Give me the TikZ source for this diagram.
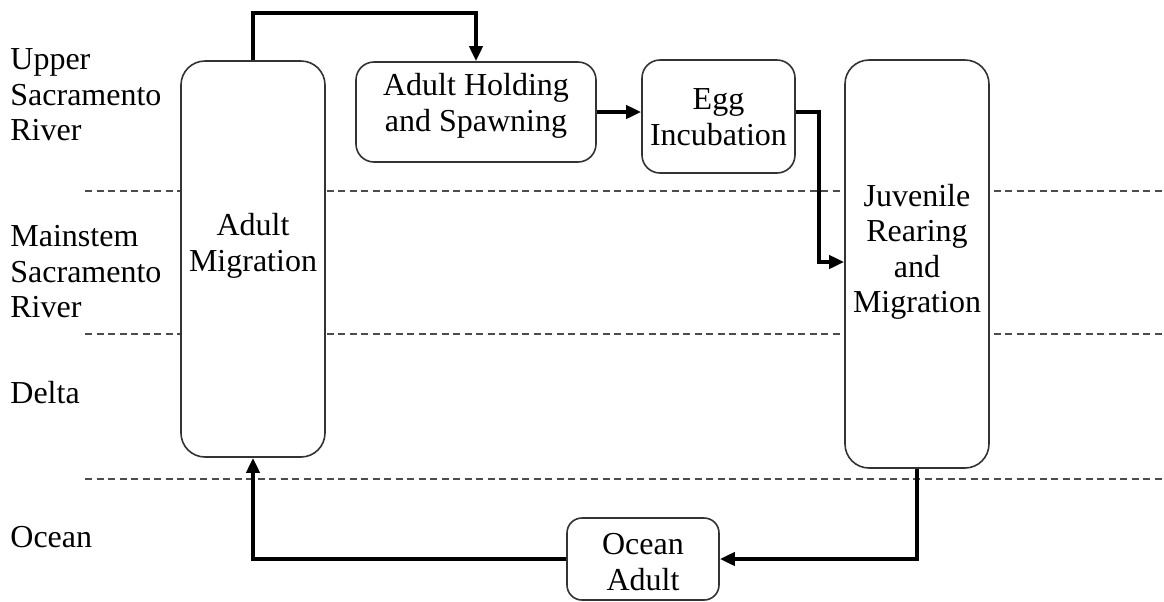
\documentclass[tikz,border=0pt]{standalone}
\usepackage{fontspec}
\setmainfont{Liberation Serif}
\usetikzlibrary{arrows.meta}

\begin{document}
\begin{tikzpicture}[x=0.5pt,y=-0.5pt,
box/.style={%
draw=black!80,
line width=0.8pt,
fill=white,
inner sep=0,
},
txt/.style={%
font={\fontsize{16}{17.75}\selectfont},
align=center,
inner sep=0,
},
zonelabel/.style={%
txt,
align=left,
anchor=west,
},
zone/.style={%
draw=black!70,
line width=0.75pt,
dash pattern=on 3.5pt off 2.25pt,
},
flow/.style={%
line width=2pt,
-{Triangle[length=7.5pt,width=6.5pt]},
}
]
\useasboundingbox (0,0) rectangle (1164,601);

%Zones
\foreach \y in {191,334,479}
  \draw[zone] (85,\y) -- (1164,\y);
\node[zonelabel] (upper) at (10,95) {Upper\\Sacramento\\River};
\node[zonelabel] (main) at (10,272) {Mainstem\\Sacramento\\River};
\node[zonelabel] (delta) at (10,393) {Delta};
\node[zonelabel] (ocean) at (10,537) {Ocean};

%Stages
\node[box,minimum width=72pt,minimum height=198pt,rounded corners=12pt] (am) at (253,259) {};
\node[txt] (amt) at (253,246) {Adult\\Migration};
\node[box,minimum width=120pt,minimum height=50pt,rounded corners=9pt] (ah) at (476,112) {};
\node[txt] (aht) at (476,106) {Adult Holding\\and Spawning};
\node[box,minimum width=76.5pt,minimum height=56.5pt,rounded corners=9pt] (egg) at (718.5,116.5) {};
\node[txt] (eggt) at (718.5,117) {Egg\\Incubation};
\node[box,minimum width=72pt,minimum height=204pt,rounded corners=12pt] (jv) at (917,264) {};
\node[txt] (jvt) at (917,252) {Juvenile\\Rearing\\and\\Migration};
\node[box,minimum width=76pt,minimum height=41pt,rounded corners=7.5pt] (oa) at (643,559) {};
\node[txt] (oat) at (643,562) {Ocean\\Adult};

%Flows
\coordinate (top) at (0,13);
\coordinate (bend) at (819,262);
\draw[flow] (am.north) -- (am.north |- top) -| (ah.north);
\draw[flow] (ah.east) -- (ah.east -| egg.west);
\draw[flow] (ah.east -| egg.east) -| (bend) -- (bend -| jv.west);
\draw[flow] (jv.south) |- (oa.east);
\draw[flow] (oa.west) -| (am.south);
\end{tikzpicture}
\end{document}
